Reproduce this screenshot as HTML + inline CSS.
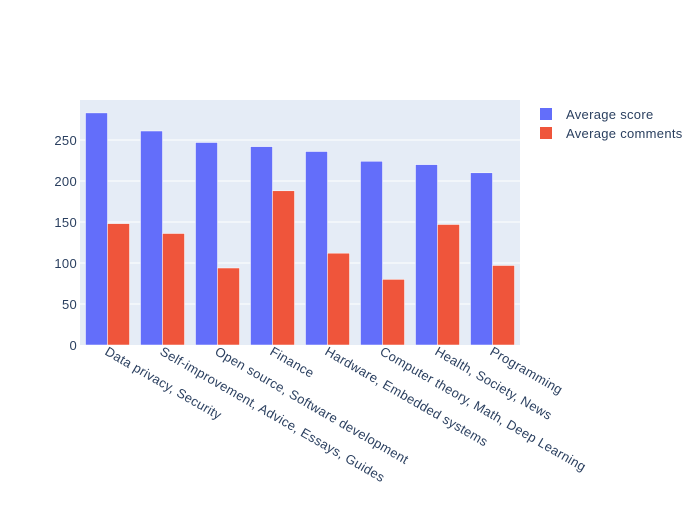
<!DOCTYPE html>
<html><head><style>
body{margin:0;background:#fff;}
text{font-family:"Liberation Sans",Arial,sans-serif;fill:#2a3f5f;font-size:13px;letter-spacing:0.3px;}
</style></head><body>
<svg width="700" height="500" xmlns="http://www.w3.org/2000/svg">
<rect x="80" y="100" width="440" height="245" fill="#e5ecf6"/>
<g stroke="#fff" stroke-width="1">
<line x1="80" x2="520" y1="304" y2="304"/>
<line x1="80" x2="520" y1="263" y2="263"/>
<line x1="80" x2="520" y1="222" y2="222"/>
<line x1="80" x2="520" y1="181" y2="181"/>
<line x1="80" x2="520" y1="140" y2="140"/>
</g>
<g text-anchor="end">
<text x="77" y="350">0</text>
<text x="77" y="309">50</text>
<text x="77" y="268">100</text>
<text x="77" y="227">150</text>
<text x="77" y="186">200</text>
<text x="77" y="145">250</text>
</g>
<g stroke="#fff" stroke-width="0.5">
<rect x="85.5" y="112.9" width="22" height="232.1" fill="#636efa"/>
<rect x="107.5" y="223.6" width="22" height="121.4" fill="#ef553b"/>
<rect x="140.5" y="131" width="22" height="214" fill="#636efa"/>
<rect x="162.5" y="233.5" width="22" height="111.5" fill="#ef553b"/>
<rect x="195.5" y="142.5" width="22" height="202.5" fill="#636efa"/>
<rect x="217.5" y="268" width="22" height="77" fill="#ef553b"/>
<rect x="250.5" y="146.6" width="22" height="198.4" fill="#636efa"/>
<rect x="272.5" y="190.8" width="22" height="154.2" fill="#ef553b"/>
<rect x="305.5" y="151.5" width="22" height="193.5" fill="#636efa"/>
<rect x="327.5" y="253.2" width="22" height="91.8" fill="#ef553b"/>
<rect x="360.5" y="161.3" width="22" height="183.7" fill="#636efa"/>
<rect x="382.5" y="279.4" width="22" height="65.6" fill="#ef553b"/>
<rect x="415.5" y="164.6" width="22" height="180.4" fill="#636efa"/>
<rect x="437.5" y="224.5" width="22" height="120.5" fill="#ef553b"/>
<rect x="470.5" y="172.8" width="22" height="172.2" fill="#636efa"/>
<rect x="492.5" y="265.5" width="22" height="79.5" fill="#ef553b"/>
</g>
<g>
<text transform="translate(104,354) rotate(30)">Data privacy, Security</text>
<text transform="translate(159,354) rotate(30)">Self-improvement, Advice, Essays, Guides</text>
<text transform="translate(214,354) rotate(30)">Open source, Software development</text>
<text transform="translate(269,354) rotate(30)">Finance</text>
<text transform="translate(324,354) rotate(30)">Hardware, Embedded systems</text>
<text transform="translate(379,354) rotate(30)">Computer theory, Math, Deep Learning</text>
<text transform="translate(434,354) rotate(30)">Health, Society, News</text>
<text transform="translate(489,354) rotate(30)">Programming</text>
</g>
<rect x="540" y="108" width="12" height="12" fill="#636efa"/>
<text x="566" y="119">Average score</text>
<rect x="540" y="127" width="12" height="12" fill="#ef553b"/>
<text x="566" y="138">Average comments</text>
</svg>
</body></html>
